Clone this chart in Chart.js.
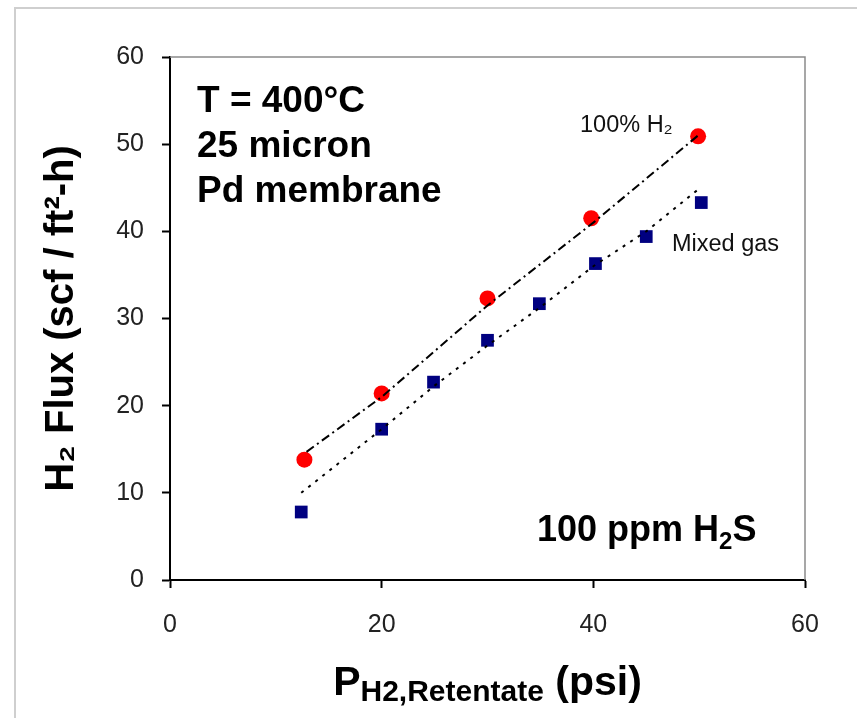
<!DOCTYPE html>
<html>
<head>
<meta charset="utf-8">
<script src="https://cdn.jsdelivr.net/npm/chart.js@4.4.1/dist/chart.umd.min.js"></script>
<style>
  html, body { margin: 0; padding: 0; background: #fff; }
  #wrap { position: relative; width: 857px; height: 718px; overflow: hidden; }
  #frame { position: absolute; left: 14px; top: 7px; width: 900px; height: 800px;
           border-left: 2px solid #cfcfcf; border-top: 2px solid #cfcfcf; }
  #c { position: absolute; left: 0; top: 0; }
</style>
</head>
<body>
<div id="wrap">
  <div id="frame"></div>
  <canvas id="c" width="857" height="718"></canvas>
</div>
<script>
// ---- data ----
const pureX = [12.7, 20, 30, 39.8, 49.9];
const pureY = [13.8, 21.4, 32.3, 41.5, 50.9];
const mixedX = [12.4, 20, 24.9, 30, 34.9, 40.2, 45, 50.2];
const mixedY = [7.8, 17.3, 22.7, 27.5, 31.7, 36.3, 39.4, 43.3];
const pureTrendX = [12.9, 20, 30, 40, 50];
const pureTrendY = [14.7, 21.0, 31.5, 41.0, 51.1];
const mixedTrendX = [12.4, 20, 25, 30, 35, 40, 45, 50];
const mixedTrendY = [10.0, 17.3, 22.3, 26.9, 31.3, 36.0, 40.0, 44.9];
const xTicks = [0, 20, 40, 60];
const yTicks = [0, 10, 20, 30, 40, 50, 60];
const labelPure = '100% H₂';
const labelMixed = 'Mixed gas';
const yTitle = 'H₂ Flux (scf / ft²-h)';
const xTitleMain = 'P';
const xTitleSub = 'H2,Retentate';
const xTitleUnit = ' (psi)';
const noteLines = ['T = 400°C', '25 micron', 'Pd membrane'];
const noteGas = ['100 ppm H', '2', 'S'];

const zip = (xs, ys) => xs.map((x, i) => ({ x: x, y: ys[i] }));

const overlay = {
  id: 'overlay',
  afterDraw(chart) {
    const ctx = chart.ctx;
    const a = chart.chartArea;
    ctx.save();
    // top & right plot border
    ctx.strokeStyle = '#8a8a8a';
    ctx.lineWidth = 1.5;
    ctx.beginPath();
    ctx.moveTo(a.left, a.top);
    ctx.lineTo(a.right, a.top);
    ctx.lineTo(a.right, a.bottom);
    ctx.stroke();

    ctx.fillStyle = '#000';
    ctx.textBaseline = 'alphabetic';
    ctx.textAlign = 'left';
    // notes
    ctx.font = 'bold 37px "Liberation Sans", Arial, sans-serif';
    const nb = [112, 157, 202];
    noteLines.forEach((t, i) => ctx.fillText(t, 197, nb[i]));
    // 100 ppm H2S
    ctx.font = 'bold 36px "Liberation Sans", Arial, sans-serif';
    let x = 537;
    ctx.fillText(noteGas[0], x, 541);
    x += ctx.measureText(noteGas[0]).width;
    ctx.font = 'bold 24px "Liberation Sans", Arial, sans-serif';
    ctx.fillText(noteGas[1], x, 549);
    x += ctx.measureText(noteGas[1]).width;
    ctx.font = 'bold 36px "Liberation Sans", Arial, sans-serif';
    ctx.fillText(noteGas[2], x, 541);

    // series labels
    ctx.font = '23.5px "Liberation Sans", Arial, sans-serif';
    ctx.fillStyle = '#111';
    ctx.fillText(labelPure, 580, 132);
    ctx.fillText(labelMixed, 672, 251);

    // x title
    ctx.fillStyle = '#000';
    const big = 'bold 41px "Liberation Sans", Arial, sans-serif';
    const small = 'bold 30px "Liberation Sans", Arial, sans-serif';
    ctx.font = big; const w1 = ctx.measureText(xTitleMain).width; const w3 = ctx.measureText(xTitleUnit).width;
    ctx.font = small; const w2 = ctx.measureText(xTitleSub).width;
    let sx = (a.left + a.right) / 2 - (w1 + w2 + w3) / 2;
    ctx.font = big; ctx.fillText(xTitleMain, sx, 695); sx += w1;
    ctx.font = small; ctx.fillText(xTitleSub, sx, 701); sx += w2;
    ctx.font = big; ctx.fillText(xTitleUnit, sx, 695);
    ctx.restore();
  }
};

const tickFont = { family: '"Liberation Sans", Arial, sans-serif', size: 25 };

new Chart(document.getElementById('c'), {
  type: 'scatter',
  data: {
    datasets: [
      { label: labelPure + ' trend', data: zip(pureTrendX, pureTrendY), showLine: true,
        borderColor: '#000', borderWidth: 2, borderDash: [9, 4, 2, 4], pointRadius: 0, fill: false },
      { label: labelMixed + ' trend', data: zip(mixedTrendX, mixedTrendY), showLine: true,
        borderColor: '#000', borderWidth: 2, borderDash: [3, 6], pointRadius: 0, fill: false },
      { label: labelPure, data: zip(pureX, pureY), pointStyle: 'circle', pointRadius: 8,
        backgroundColor: '#ff0000', borderColor: '#ff0000', borderWidth: 0 },
      { label: labelMixed, data: zip(mixedX, mixedY), pointStyle: 'rect', pointRadius: 9,
        backgroundColor: '#000080', borderColor: '#000080', borderWidth: 0 }
    ]
  },
  options: {
    responsive: false,
    animation: false,
    events: [],
    layout: { padding: { left: 0, top: 57, right: 52, bottom: 0 } },
    plugins: { legend: { display: false }, tooltip: { enabled: false } },
    scales: {
      x: {
        type: 'linear', min: 0, max: 60,
        afterBuildTicks(s) { s.ticks = xTicks.map(v => ({ value: v })); },
        afterFit(s) { s.height = 138; },
        grid: { drawOnChartArea: false, drawTicks: true, tickLength: 8, tickColor: '#000', tickWidth: 2 },
        border: { display: true, color: '#000', width: 2 },
        ticks: { font: tickFont, color: '#222', padding: 22, maxRotation: 0 }
      },
      y: {
        type: 'linear', min: 0, max: 60,
        afterBuildTicks(s) { s.ticks = yTicks.map(v => ({ value: v })); },
        afterFit(s) { s.width = 170; },
        grid: { drawOnChartArea: false, drawTicks: true, tickLength: 8, tickColor: '#000', tickWidth: 2 },
        border: { display: true, color: '#000', width: 2 },
        ticks: { font: tickFont, color: '#222', padding: 18 },
        title: { display: true, text: yTitle, color: '#000',
                 font: { family: '"Liberation Sans", Arial, sans-serif', size: 40, weight: 'bold' },
                 padding: { top: 38, bottom: 0 } }
      }
    }
  },
  plugins: [overlay]
});
</script>
</body>
</html>
